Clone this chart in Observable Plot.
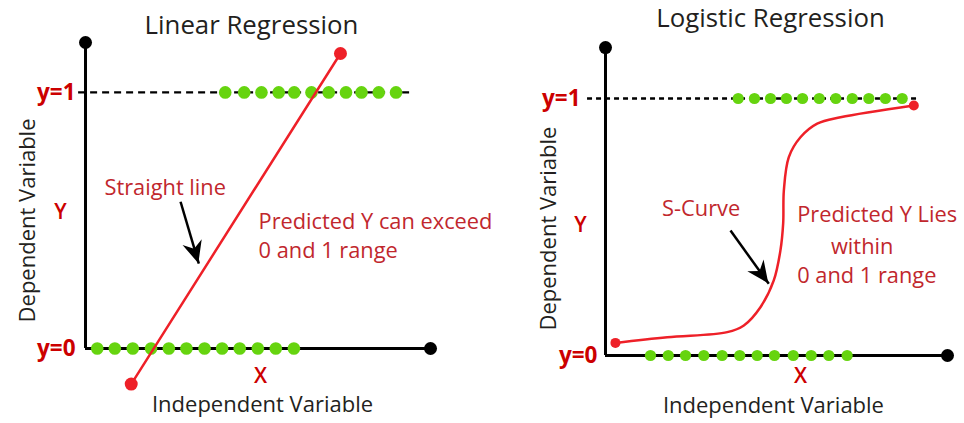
<!DOCTYPE html>
<html>
<head>
<meta charset="utf-8">
<script src="https://cdn.jsdelivr.net/npm/d3@7"></script>
<script src="https://cdn.jsdelivr.net/npm/@observablehq/plot@0.6"></script>
<style>
  html, body { margin: 0; padding: 0; background: #fff; }
  #wrap { display: flex; width: 964px; height: 423px; overflow: hidden; background: #fff; }
  #wrap svg { position: relative; }
  #wrap svg:first-child { z-index: 2; }
  #wrap svg:last-child { z-index: 1; }
</style>
</head>
<body>
<div id="wrap"></div>
<script>
// ---------- Linear regression panel (x: 0..20 along axis, y: 0 / 1 levels) ----------
const linTopDotsX = [8.1, 9.2, 10.2, 11.2, 12.1, 13.1, 14.1, 15.1, 16.0, 17.0, 18.0];
const linBottomDotsX = [0.68, 1.70, 2.74, 3.80, 4.83, 5.85, 6.90, 7.92, 8.94, 9.99, 11.03, 12.08];
const linFit = [{x: 2.65, y: -0.139}, {x: 14.78, y: 1.152}];
const linAxisTop = [1.195];
const linAxisEnd = [20];
const linDashSpan = [-0.4, 19.0];
const linArrow = [{x1: 5.51, y1: 0.573, x2: 6.57, y2: 0.331}];
const linTitle = [{x: 9.62, y: 1.262, text: "Linear Regression"}];
const linXName = [{x: 10.26, y: -0.222, text: "Independent Variable"}];
const linYName = [{x: -3.36, y: 0.5, text: "Dependent Variable"}];
const linLevels = [{x: -0.58, y: 1, text: "y=1"}, {x: -0.58, y: 0, text: "y=0"}];
const linLetters = [{x: -1.45, y: 0.532, text: "Y"}, {x: 10.14, y: -0.11, text: "X"}];
const linNotes = [
  {x: 1.1, y: 0.625, text: "Straight line"},
  {x: 10.03, y: 0.492, text: "Predicted Y can exceed"},
  {x: 10.03, y: 0.379, text: "0 and 1 range"}
];

// ---------- Logistic regression panel ----------
const logTopDotsX = [7.76, 8.71, 9.65, 10.58, 11.52, 12.5, 13.47, 14.43, 15.40, 16.37, 17.35];
const logBottomDotsX = [2.63, 3.67, 4.68, 5.75, 6.82, 7.85, 8.87, 9.88, 10.98, 12.03, 13.06, 14.13];
const logCurveX = [0.58, 3.61, 7.12, 8.09, 9.06, 9.84, 10.23, 10.39, 10.43, 10.72, 11.40, 12.38, 13.74, 18.03];
const logCurveY = [0.049, 0.071, 0.091, 0.117, 0.188, 0.292, 0.409, 0.514, 0.642, 0.772, 0.849, 0.902, 0.927, 0.973];
const logAxisTop = [1.198];
const logAxisEnd = [20];
const logDashSpan = [-1.05, 18.42];
const logArrow = [{x1: 7.31, y1: 0.486, x2: 9.55, y2: 0.279}];
const logTitle = [{x: 9.65, y: 1.311, text: "Logistic Regression"}];
const logXName = [{x: 9.82, y: -0.197, text: "Independent Variable"}];
const logYName = [{x: -3.33, y: 0.494, text: "Dependent Variable"}];
const logLevels = [{x: -1.46, y: 1, text: "y=1"}, {x: -0.47, y: 0, text: "y=0"}];
const logLetters = [{x: -1.46, y: 0.506, text: "Y"}, {x: 11.4, y: -0.08, text: "X"}];
const logNotesStart = [
  {x: 3.31, y: 0.571, text: "S-Curve"},
  {x: 11.21, y: 0.545, text: "Predicted Y Lies"},
  {x: 11.21, y: 0.311, text: "0 and 1 range"}
];
const logNotesMiddle = [{x: 15.01, y: 0.421, text: "within"}];

// ---------- styling ----------
const FONT = "'Open Sans', 'Noto Sans', sans-serif";
const RED_TEXT = "#c1272d";
const RED_LINE = "#ee2028";
const GREEN = "#66d40f";
const INK = "#231f20";

function arrowHeads(data) {
  return (index, scales) => {
    const g = d3.create("svg:g");
    for (const a of data) {
      const x1 = scales.x(a.x1), y1 = scales.y(a.y1);
      const x2 = scales.x(a.x2), y2 = scales.y(a.y2);
      const ang = Math.atan2(y2 - y1, x2 - x1);
      const L = 22, W = 10, N = 15;
      const ux = Math.cos(ang), uy = Math.sin(ang);
      const px = -uy, py = ux;
      const bx = x2 - ux * L, by = y2 - uy * L;
      const nx = x2 - ux * N, ny = y2 - uy * N;
      const d = `M${x2},${y2}L${bx + px * W},${by + py * W}L${nx},${ny}L${bx - px * W},${by - py * W}Z`;
      g.append("path").attr("d", d).attr("fill", "#000");
    }
    return g.node();
  };
}

function panel(c) {
  const topDots = c.topX.map(x => ({x, y: 1}));
  const botDots = c.botX.map(x => ({x, y: 0}));
  return Plot.plot({
    width: 482, height: 423, margin: 0,
    x: {domain: c.xDomain, axis: null},
    y: {domain: c.yDomain, axis: null},
    style: {fontFamily: FONT, background: "transparent", overflow: "visible"},
    marks: [
      // axes
      Plot.ruleX([0], {y1: 0, y2: c.axisTop[0], stroke: "#000", strokeWidth: 3}),
      Plot.ruleY([0], {x1: 0, x2: c.axisEnd[0], stroke: "#000", strokeWidth: 3}),
      Plot.dot([{x: 0, y: c.axisTop[0]}], {x: "x", y: "y", r: 6.5, fill: "#000"}),
      Plot.dot([{x: c.axisEnd[0], y: 0}], {x: "x", y: "y", r: 6.5, fill: "#000"}),
      // y = 1 dashed level
      Plot.ruleY([1], {x1: c.dash[0], x2: c.dash[1], stroke: "#000", strokeWidth: 2.4, strokeDasharray: c.dashArray}),
      // observations
      Plot.dot(topDots, {x: "x", y: "y", r: c.dotR, fill: GREEN}),
      Plot.dot(botDots, {x: "x", y: "y", r: c.dotR, fill: GREEN}),
      // fitted line / curve
      Plot.line(c.fit, {x: "x", y: "y", stroke: RED_LINE, strokeWidth: 2.5, curve: c.curve}),
      Plot.dot([c.fit[0], c.fit[c.fit.length - 1]], {x: "x", y: "y", r: c.endR, fill: RED_LINE}),
      // arrow
      Plot.link(c.arrow, {x1: "x1", y1: "y1", x2: "x2", y2: "y2", stroke: "#000", strokeWidth: 2.5}),
      arrowHeads(c.arrow),
      // texts
      Plot.text(c.title, {x: "x", y: "y", text: "text", fill: INK, fontSize: 25.8, lineAnchor: "middle"}),
      Plot.text(c.xName, {x: "x", y: "y", text: "text", fill: INK, fontSize: 22, lineAnchor: "middle"}),
      Plot.text(c.yName, {x: "x", y: "y", text: "text", fill: INK, fontSize: 22, rotate: -90, lineAnchor: "middle"}),
      Plot.text(c.levels, {x: "x", y: "y", text: "text", fill: "#c00", fontSize: 22.5, fontWeight: "bold", textAnchor: "end", lineAnchor: "middle"}),
      Plot.text(c.letters, {x: "x", y: "y", text: "text", fill: "#c00", fontSize: "21px", fontWeight: 600, lineAnchor: "middle"}),
      Plot.text(c.notesStart, {x: "x", y: "y", text: "text", fill: RED_TEXT, fontSize: 21.8, textAnchor: "start", lineAnchor: "middle"}),
      Plot.text(c.notesMiddle, {x: "x", y: "y", text: "text", fill: RED_TEXT, fontSize: 21.8, lineAnchor: "middle"})
    ]
  });
}

const wrap = document.getElementById("wrap");
wrap.append(panel({
  xDomain: [-4.928, 23.014], yDomain: [-0.293, 1.359],
  topX: linTopDotsX, botX: linBottomDotsX,
  fit: linFit, curve: "linear",
  axisTop: linAxisTop, axisEnd: linAxisEnd, dash: linDashSpan, dashArray: "7,5",
  dotR: 6.3, endR: 6.5,
  arrow: linArrow, title: linTitle, xName: linXName, yName: linYName,
  levels: linLevels, letters: linLetters, notesStart: linNotes, notesMiddle: []
}));
wrap.append(panel({
  xDomain: [-7.193, 20.994], yDomain: [-0.2646, 1.3813],
  topX: logTopDotsX, botX: logBottomDotsX,
  fit: logCurveX.map((x, i) => ({x, y: logCurveY[i]})), curve: "catmull-rom",
  axisTop: logAxisTop, axisEnd: logAxisEnd, dash: logDashSpan, dashArray: "5,4",
  dotR: 5.6, endR: 5,
  arrow: logArrow, title: logTitle, xName: logXName, yName: logYName,
  levels: logLevels, letters: logLetters, notesStart: logNotesStart, notesMiddle: logNotesMiddle
}));
</script>
</body>
</html>
